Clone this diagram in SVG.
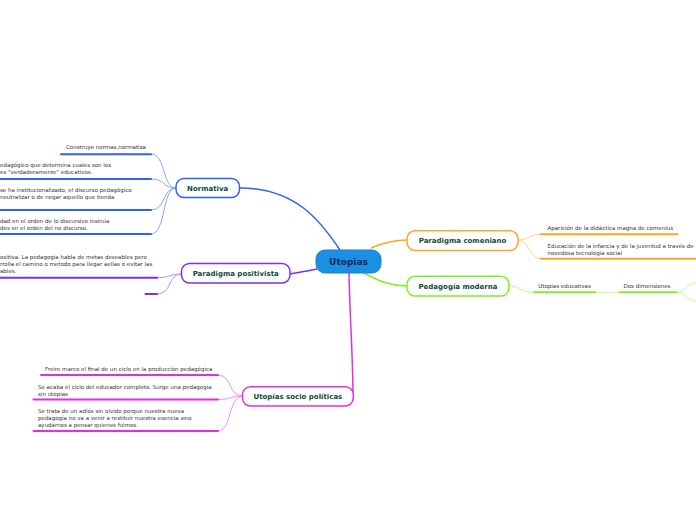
<svg xmlns="http://www.w3.org/2000/svg" width="696" height="520" viewBox="0 0 696 520">
<style>
.t{font-family:"DejaVu Sans",Verdana,sans-serif;font-size:5.5px;fill:#333}
.nl{font-family:"DejaVu Sans",Verdana,sans-serif;font-size:7px;font-weight:bold;fill:#0f4a3c;text-anchor:middle}
.node{fill:#fff;stroke-width:1.5}
.ul{stroke-width:2;stroke-linecap:round;fill:none}
.c{fill:none;stroke-width:1}
.m{fill:none;stroke-width:1.5}
.blue{stroke:#2f62f0}.bluel{stroke:#8aa8fb}
.pur{stroke:#7b2ff0}.purl{stroke:#b590f6}
.mag{stroke:#e22ee2}.magl{stroke:#f08ef0}
.ora{stroke:#ffa52a}.oral{stroke:#ffcf94}
.grn{stroke:#7ef02a}.grnl{stroke:#c2f79a}
</style>
<rect width="696" height="520" fill="#fff"/>
<g id="connectors">
<path class="m blue" d="M240,188 C295,188 320,220 340,250"/>
<path class="m pur" d="M290,274 C300,272 308,271 317,269"/>
<path class="m mag" d="M349,273 C350,320 353,360 353,396"/>
<path class="m ora" d="M371,248 C385,242 395,240 407,240"/>
<path class="m grn" d="M362,272 C380,282 392,286 407,286"/>
<path class="c bluel" d="M151,154 C166,154 162,188 176,188"/>
<path class="c bluel" d="M151,179 C166,179 162,188 176,188"/>
<path class="c bluel" d="M151,210 C166,210 162,188 176,188"/>
<path class="c bluel" d="M151,234 C166,234 162,188 176,188"/>
<path class="c purl" d="M157,277.7 C170,277.7 170,274 181,274"/>
<path class="c purl" d="M157,294 C172,294 168,274 181,274"/>
<path class="c magl" d="M218,375 C232,375 228,396 243,396"/>
<path class="c magl" d="M218,399.5 C232,399.5 228,396 243,396"/>
<path class="c magl" d="M218,431 C232,431 228,396 243,396"/>
<path class="c oral" d="M518,240 C530,240 528,234.3 541,234.3"/>
<path class="c oral" d="M518,240 C530,240 528,258.7 541,258.7"/>
<path class="c grnl" d="M509,286 C521,286 520,292.3 534,292.3"/>
<path class="c grnl" d="M595,292.3 L620,292.3"/>
<path class="c grnl" d="M676,292.3 C686,292.3 686,283 696,283"/>
<path class="c grnl" d="M676,292.3 C686,292.3 686,301 696,301"/>
</g>
<g id="utopias">
<rect x="316" y="250" width="65" height="23" rx="9" fill="#1b8fe3" stroke="#1a80cc" stroke-width="1"/>
<text x="348.5" y="264.5" style="font-family:'DejaVu Sans',Verdana,sans-serif;font-size:9px;font-weight:bold;fill:#0b2a55;text-anchor:middle">Utopias</text>
</g>
<g id="normativa">
<rect class="node blue" x="176" y="178.5" width="63.5" height="19" rx="8"/>
<text class="nl" x="207.7" y="190.5">Normativa</text>
</g>
<g id="normativa-children">
<path class="ul blue" d="M61,154.3 L151,154.3"/>
<text class="t" x="66" y="149.3">Construye normas,normatiza</text>
<path class="ul blue" d="M0,179 L151,179"/>
<text class="t" x="0" y="167.3">edagógico que determina cuales son los</text>
<text class="t" x="0" y="174.3">es "verdaderamente" educativos.</text>
<path class="ul blue" d="M0,210 L151,210"/>
<text class="t" x="0" y="192">se ha institucionalizado, el discurso pedagógico</text>
<text class="t" x="0" y="199">neutralizar o de negar aquello que tienda</text>
<path class="ul blue" d="M0,234 L151,234"/>
<text class="t" x="0" y="223">dad en el orden de lo discursivo insinúa</text>
<text class="t" x="0" y="230">des en el orden del no discurso.</text>
</g>
<g id="positivista">
<rect class="node pur" x="181.5" y="263.5" width="108.5" height="19.5" rx="8"/>
<text class="nl" x="235.7" y="275.8">Paradigma positivista</text>
</g>
<g id="positivista-children">
<path class="ul pur" d="M0,277.7 L157,277.7"/>
<text class="t" x="0" y="259.3">ositiva. La pedagogia habla de metas deseables pero</text>
<text class="t" x="0" y="266.3">rrolla el camino o metodo para llegar aellas o evitar las</text>
<text class="t" x="0" y="273.3">ables.</text>
<path class="ul pur" d="M145.5,294 L157,294"/>
</g>
<g id="socio">
<rect class="node mag" x="242.5" y="386.7" width="110.8" height="19.3" rx="8"/>
<text class="nl" x="297.9" y="398.8">Utopías socio políticas</text>
</g>
<g id="socio-children">
<path class="ul mag" d="M41,375 L218,375"/>
<text class="t" x="45" y="371">Freire marco el final de un ciclo en la producción pedagógica</text>
<path class="ul mag" d="M33.5,399.5 L218,399.5"/>
<text class="t" x="38" y="388.5">Se acaba el ciclo del educador completo. Surge una pedagogia</text>
<text class="t" x="38" y="395.5">sin utopias</text>
<path class="ul mag" d="M33.5,431 L218,431"/>
<text class="t" x="38" y="413">Se trata de un adiós sin olvido porque nuestra nueva</text>
<text class="t" x="38" y="420">pedagogía no va a venir a restituir nuestra esencia sino</text>
<text class="t" x="38" y="426.7">ayudarnos a pensar quienes fuimos.</text>
</g>
<g id="comeniano">
<rect class="node ora" x="407" y="230.8" width="111" height="19.7" rx="8"/>
<text class="nl" x="462.5" y="243">Paradigma comeniano</text>
</g>
<g id="comeniano-children">
<path class="ul ora" d="M541,234.3 L677.5,234.3"/>
<text class="t" x="547.5" y="229.5">Aparición de la didáctica magna de comenius</text>
<path class="ul ora" d="M541,258.7 L697,258.7"/>
<text class="t" x="547.5" y="248">Educación de la infancia y de la juventud a través de</text>
<text class="t" x="547.5" y="255">novedosa tecnología social</text>
</g>
<g id="moderna">
<rect class="node grn" x="407" y="276.3" width="102" height="19.7" rx="8"/>
<text class="nl" x="458" y="288.5">Pedagogía moderna</text>
</g>
<g id="moderna-children">
<path class="ul grn" d="M534,292.3 L595,292.3"/>
<text class="t" x="538.3" y="287.7">Utopias educativas</text>
<path class="ul grn" d="M620,292.3 L676,292.3"/>
<text class="t" x="623.5" y="287.7">Dos dimensiones</text>
</g>
</svg>
